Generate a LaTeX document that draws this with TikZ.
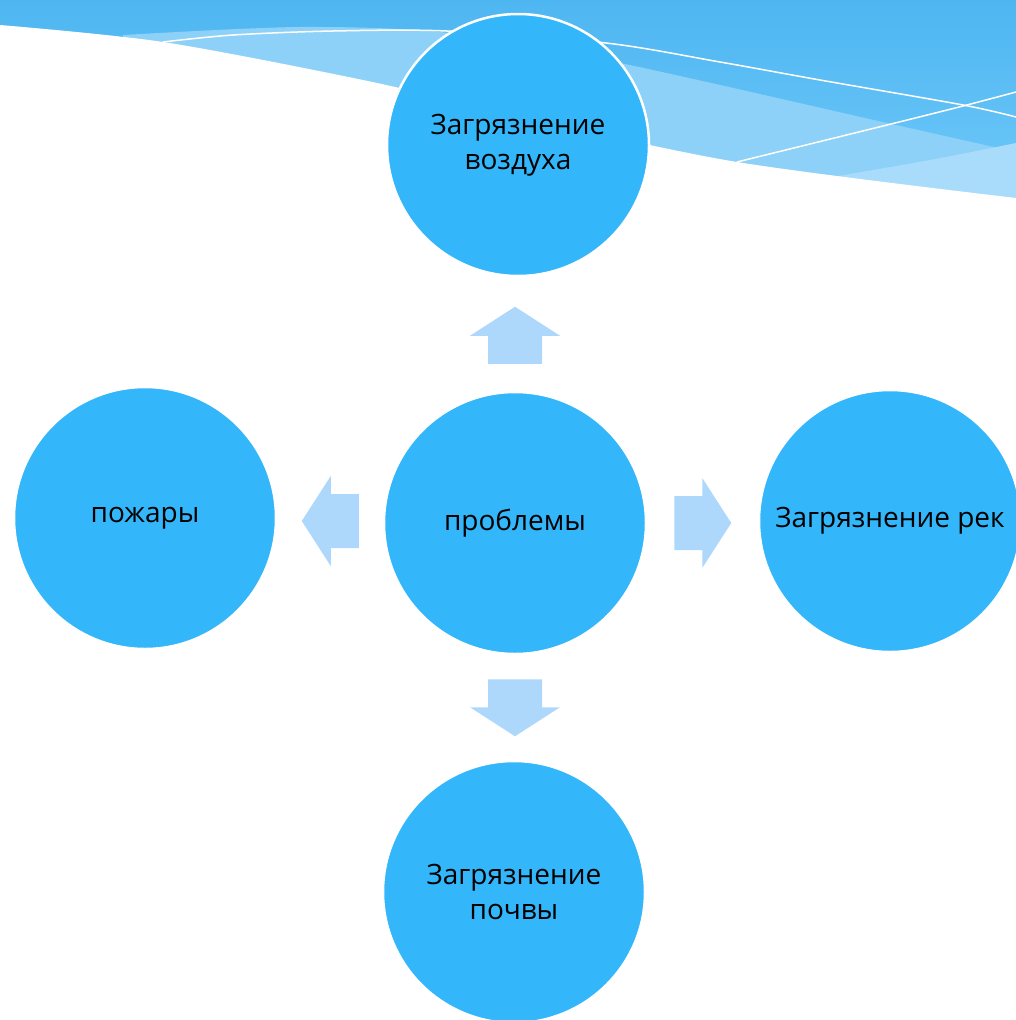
\documentclass[tikz,border=0pt]{standalone}
\usepackage{fontspec}
\setmainfont{Open Sans}
\usetikzlibrary{positioning}
\usepackage{xcolor}

\definecolor{bubblefill}{HTML}{33B6FA}
\definecolor{arrowfill}{HTML}{ADD8FC}
\definecolor{skytop}{HTML}{4EB6F1}
\definecolor{skylow}{HTML}{6EC8F9}
\definecolor{bandlight}{HTML}{8DD1F8}
\definecolor{bandpale}{HTML}{A8DCFA}

\tikzset{
  bubble/.style={circle, fill=bubblefill, draw=white, line width=2.5pt, minimum size=262pt,
    inner sep=0pt, align=center, text=black, font=\fontsize{28}{35}\selectfont},
  pics/blockarrow/.style={code={
    \fill[arrowfill] (0,-27) -- (28,-27) -- (28,-45) -- (57,0) -- (28,45) -- (28,27) -- (0,27) -- cycle;
  }}
}

\begin{document}
\begin{tikzpicture}[x=1pt, y=-1pt]
				\useasboundingbox (0,0) rectangle (1016,1020);
				\clip (0,0) rectangle (1016,1020);
				
				% waves at the top
				\shade[top color=skytop, bottom color=skylow] (0,0) rectangle (1016,200);
				\fill[bandlight]
				  plot[smooth] coordinates {(123,35) (300,27) (450,33) (620,63) (887,123) (1016,152)}
				  -- (1016,260) -- (123,260) -- cycle;
				\fill[bandpale]
				  plot[smooth] coordinates {(815,180) (930,160) (1016,143)}
				  -- (1016,260) -- (815,260) -- cycle;
				\fill[white]
				  plot[smooth] coordinates {(0,25) (163,42) (363,80) (520,116) (737,162) (1016,198)}
				  -- (1016,270) -- (0,270) -- cycle;
				\draw[white, line width=1.5pt]
				  plot[smooth] coordinates {(163,42) (233,35) (333,31) (447,31) (606,43) (720,62) (820,80) (963,105) (1016,117)};
				\draw[white, line width=1.5pt]
				  plot[smooth] coordinates {(737,162) (887,125) (963,106) (1016,92)};
				
				% circles
				\node[bubble] (prob) at (515,523) {проблемы};
				\node[bubble] (air) at (518,145) {Загрязнение\\воздуха};
				\node[bubble] (fire) at (145,518) {пожары};
				\node[bubble] (rivers) at (890,521) {Загрязнение рек};
				\node[bubble] (soil) at (514,892) {Загрязнение\\почвы};
				
				% arrows out of the centre
				\pic[rotate=90] at ([yshift=27pt]prob.north) {blockarrow};
				\pic[rotate=180] at ([xshift=-24pt,yshift=2pt]prob.west) {blockarrow};
				\pic at ([xshift=27pt]prob.east) {blockarrow};
				\pic[rotate=-90] at ([yshift=-24pt]prob.south) {blockarrow};
			\end{tikzpicture}
\end{document}
